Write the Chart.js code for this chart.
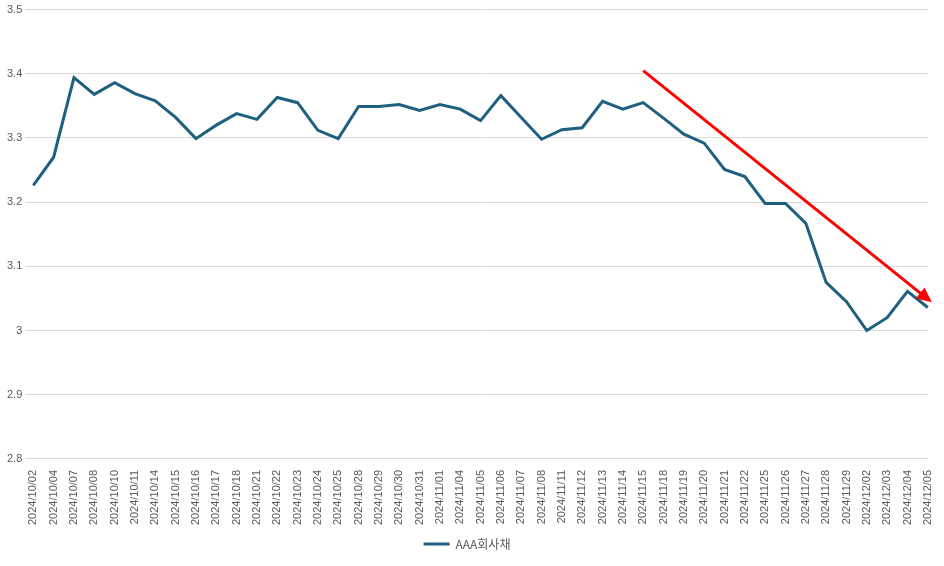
<!DOCTYPE html>
<html><head><meta charset="utf-8">
<script src="https://cdn.jsdelivr.net/npm/chart.js@4/dist/chart.umd.min.js"></script>
<style>body{margin:0;background:#fff}#w{width:944px;height:566px}</style>
</head><body><div id="w"><canvas id="c"></canvas></div>
<script>
const categories=["2024/10/02","2024/10/04","2024/10/07","2024/10/08","2024/10/10","2024/10/11","2024/10/14","2024/10/15","2024/10/16","2024/10/17","2024/10/18","2024/10/21","2024/10/22","2024/10/23","2024/10/24","2024/10/25","2024/10/28","2024/10/29","2024/10/30","2024/10/31","2024/11/01","2024/11/04","2024/11/05","2024/11/06","2024/11/07","2024/11/08","2024/11/11","2024/11/12","2024/11/13","2024/11/14","2024/11/15","2024/11/18","2024/11/19","2024/11/20","2024/11/21","2024/11/22","2024/11/25","2024/11/26","2024/11/27","2024/11/28","2024/11/29","2024/12/02","2024/12/03","2024/12/04","2024/12/05"];
const aaa=[3.226,3.27,3.394,3.368,3.386,3.369,3.358,3.332,3.299,3.32,3.338,3.329,3.363,3.355,3.312,3.299,3.349,3.349,3.352,3.343,3.352,3.345,3.327,3.366,3.332,3.298,3.313,3.316,3.357,3.345,3.355,3.331,3.306,3.292,3.251,3.24,3.198,3.198,3.167,3.075,3.045,3.0,3.02,3.061,3.036];
const arrowFrom=[30,3.405], arrowTo=[44.2,3.044];
const arrowPlugin={id:'arrow',afterDatasetsDraw(ch){
 const x=ch.scales.x,y=ch.scales.y,ctx=ch.ctx;
 const x1=x.getPixelForValue(arrowFrom[0]),y1=y.getPixelForValue(arrowFrom[1]);
 const x2=x.getPixelForValue(arrowTo[0]),y2=y.getPixelForValue(arrowTo[1]);
 const a=Math.atan2(y2-y1,x2-x1),L=15,W=7;
 ctx.save();ctx.strokeStyle='#ff0000';ctx.fillStyle='#ff0000';ctx.lineWidth=3;
 ctx.beginPath();ctx.moveTo(x1,y1);ctx.lineTo(x2-L*Math.cos(a)*0.8,y2-L*Math.sin(a)*0.8);ctx.stroke();
 ctx.beginPath();ctx.moveTo(x2,y2);
 ctx.lineTo(x2-L*Math.cos(a)+W*Math.sin(a),y2-L*Math.sin(a)-W*Math.cos(a));
 ctx.lineTo(x2-L*Math.cos(a)-W*Math.sin(a),y2-L*Math.sin(a)+W*Math.cos(a));
 ctx.closePath();ctx.fill();ctx.restore();}};
new Chart(document.getElementById('c'),{type:'line',
 data:{labels:categories,datasets:[{label:'AAA회사채',data:aaa,borderColor:'#1f5f7f',backgroundColor:'#1f5f7f',borderWidth:3,pointRadius:0,tension:0}]},
 options:{responsive:true,maintainAspectRatio:false,animation:false,
  layout:{padding:{left:4,right:14,top:8,bottom:6}},
  plugins:{legend:{position:'bottom',labels:{color:'#595959',font:{size:12,family:'Noto Sans CJK KR'},boxWidth:26,boxHeight:0,usePointStyle:false}},tooltip:{enabled:false}},
  scales:{
   x:{grid:{display:false},border:{color:'#d9d9d9'},ticks:{color:'#595959',font:{size:11,family:'Liberation Sans'},maxRotation:90,minRotation:90,autoSkip:false}},
   y:{min:2.8,max:3.5,border:{display:false},grid:{color:'#d9d9d9'},ticks:{stepSize:0.1,color:'#595959',font:{size:11,family:'Liberation Sans'},callback:v=>Math.round(v*10)/10}}
  }}, plugins:[arrowPlugin]});
</script></body></html>
